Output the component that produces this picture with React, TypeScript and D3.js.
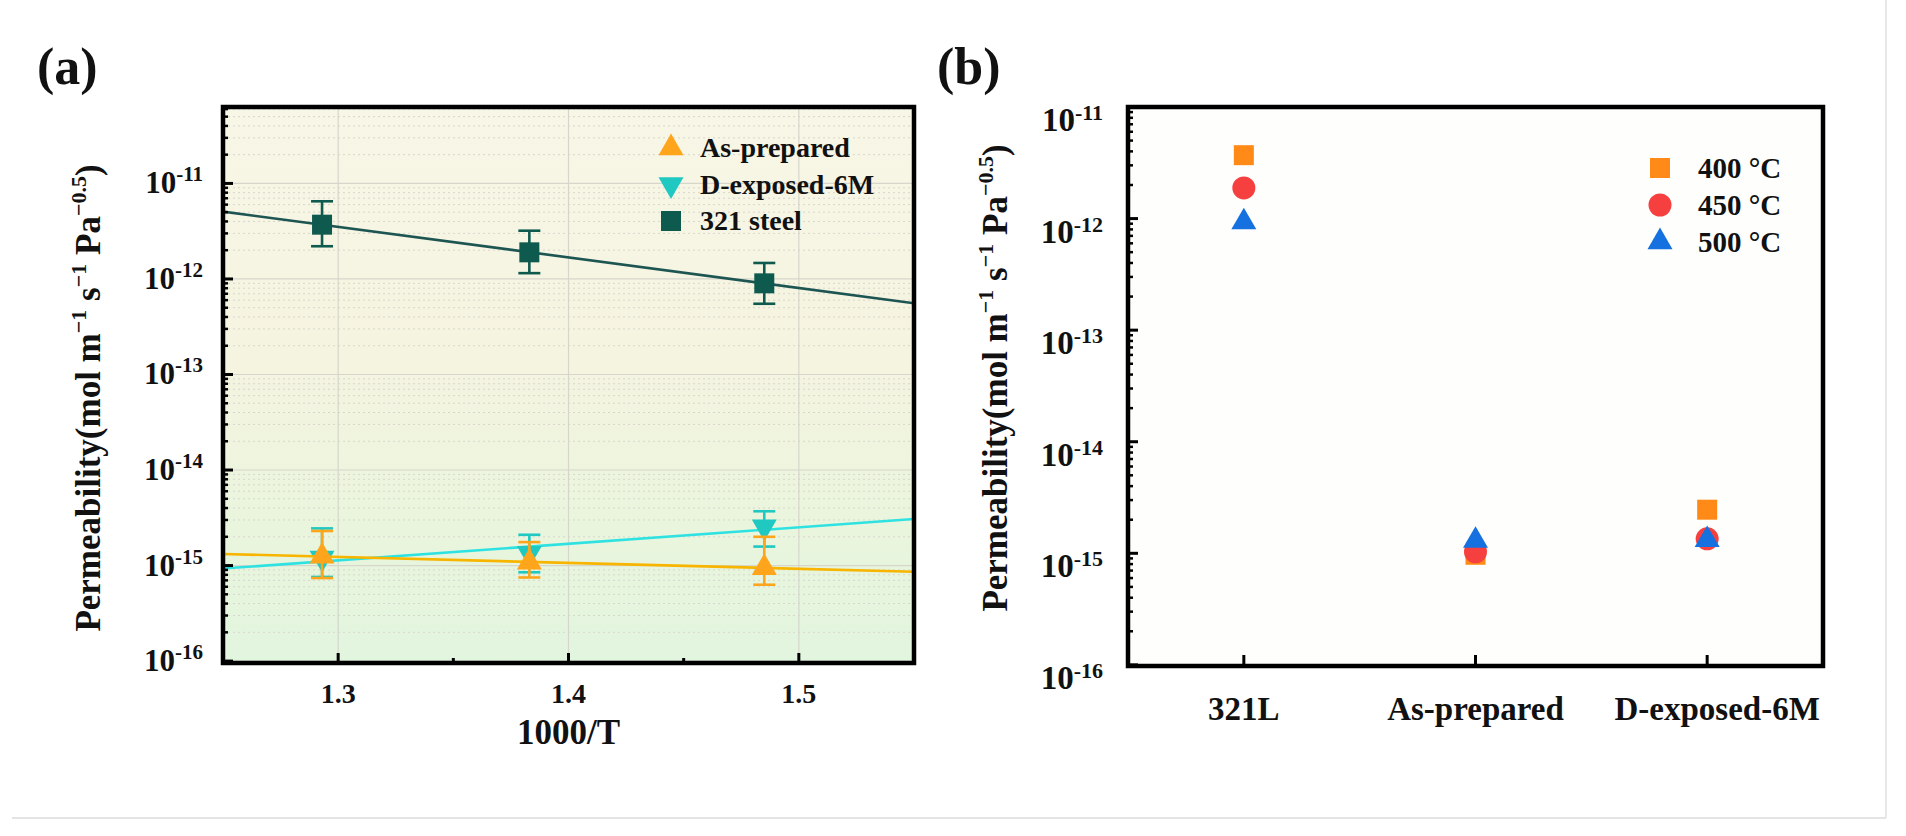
import React from 'react';
import * as d3 from 'd3';

const W = 1906;
const H = 836;
const FONT = '"Liberation Serif", "Times New Roman", Times, serif';

// ---------- Panel (a) data ----------
const invT = [1.293, 1.383, 1.485];
const steelVals = [3.7e-12, 1.9e-12, 9.0e-13];
const steelHi = [6.5e-12, 3.2e-12, 1.47e-12];
const steelLo = [2.2e-12, 1.15e-12, 5.5e-13];
const asPrepVals = [1.25e-15, 1.08e-15, 9.5e-16];
const asPrepHi = [2.3e-15, 1.76e-15, 2.0e-15];
const asPrepLo = [7.4e-16, 7.5e-16, 6.3e-16];
const dexpVals = [1.2e-15, 1.35e-15, 2.55e-15];
const dexpHi = [2.45e-15, 2.1e-15, 3.7e-15];
const dexpLo = [7.6e-16, 8.5e-16, 1.58e-15];
const xTicksA = [1.3, 1.4, 1.5];
const xMinorA = [1.35, 1.45];
const xDomainA = [1.25, 1.55];
const decadeExpsA = [-16, -15, -14, -13, -12, -11];
const legendA = ['As-prepared', 'D-exposed-6M', '321 steel'];

// ---------- Panel (b) data ----------
const categories = ['321L', 'As-prepared', 'D-exposed-6M'];
const t400 = [3.7e-12, 0.97e-15, 2.46e-15];
const t450 = [1.88e-12, 1.03e-15, 1.35e-15];
const t500 = [0.93e-12, 1.3e-15, 1.32e-15];
const decadeExpsB = [-16, -15, -14, -13, -12, -11];
const legendB = ['400 °C', '450 °C', '500 °C'];

// colours
const C_ORANGE = '#ffa51c';
const C_ORANGE_LINE = '#f7b500';
const C_CYAN = '#1fc9c2';
const C_CYAN_LINE = '#2fe2e2';
const C_STEEL = '#0e5a4e';
const C_STEEL_LINE = '#1d5552';
const C_B400 = '#ff8a17';
const C_B450 = '#f6403f';
const C_B500 = '#1570e0';

// geometry
const A = { left: 223, right: 914, top: 107, bottom: 663 };
const B = { left: 1128, right: 1823, top: 107, bottom: 666 };

const triUp = d3.symbol().type(d3.symbolTriangle).size(270)() as string;
const square = d3.symbol().type(d3.symbolSquare).size(400)() as string;
const circle = d3.symbol().type(d3.symbolCircle).size(415)() as string;

function logFit(xs: number[], ys: number[]) {
  const ly = ys.map((v) => Math.log10(v));
  const mx = d3.mean(xs) as number;
  const my = d3.mean(ly) as number;
  let sxy = 0;
  let sxx = 0;
  xs.forEach((x, i) => {
    sxy += (x - mx) * (ly[i] - my);
    sxx += (x - mx) * (x - mx);
  });
  const b = sxy / sxx;
  return (x: number) => Math.pow(10, my + b * (x - mx));
}

function minorValues(exps: number[]) {
  const out: number[] = [];
  exps.forEach((e) => {
    for (let k = 2; k <= 9; k++) out.push(k * Math.pow(10, e));
  });
  return out;
}

function PowLabel({ x, y, exp, size, sup, raise }: any) {
  return (
    <text x={x} y={y} textAnchor="end" fontFamily={FONT} fontWeight="bold" fontSize={size} fill="#111">
      10
      <tspan dy={-raise} fontSize={sup}>
        {String(exp)}
      </tspan>
    </text>
  );
}

function YLabel({ x, y, size }: any) {
  const sup = Math.round(size * 0.62);
  const r = Math.round(size * 0.4);
  return (
    <text
      transform={`translate(${x},${y}) rotate(-90)`}
      textAnchor="middle"
      fontFamily={FONT}
      fontWeight="bold"
      fontSize={size}
      fill="#111"
    >
      Permeability(mol m
      <tspan dy={-r} fontSize={sup}>{'\u22121'}</tspan>
      <tspan dy={r}> s</tspan>
      <tspan dy={-r} fontSize={sup}>{'\u22121'}</tspan>
      <tspan dy={r}> Pa</tspan>
      <tspan dy={-r} fontSize={sup}>{'\u22120.5'}</tspan>
      <tspan dy={r}>)</tspan>
    </text>
  );
}

function PanelA() {
  const x = d3.scaleLinear().domain(xDomainA).range([A.left, A.right]);
  const y = d3
    .scaleLog()
    .domain([Math.pow(10, -16.02), Math.pow(10, -10.2)])
    .range([A.bottom, A.top]);
  const minors = minorValues(decadeExpsA).filter((v) => v < y.domain()[1] && v > y.domain()[0]);
  const majors = decadeExpsA.map((e) => Math.pow(10, e));

  const fitPath = (vals: number[]) => {
    const f = logFit(invT, vals);
    const pts = xDomainA.map((xx) => [x(xx), y(f(xx))] as [number, number]);
    return d3.line()(pts) as string;
  };

  const series = [
    { vals: dexpVals, hi: dexpHi, lo: dexpLo, color: C_CYAN, lineColor: C_CYAN_LINE, sym: triUp, rot: 180 },
    { vals: asPrepVals, hi: asPrepHi, lo: asPrepLo, color: C_ORANGE, lineColor: C_ORANGE_LINE, sym: triUp, rot: 0 },
    { vals: steelVals, hi: steelHi, lo: steelLo, color: C_STEEL, lineColor: C_STEEL_LINE, sym: square, rot: 0 },
  ];

  const legendItems = [
    { label: legendA[0], color: C_ORANGE, sym: triUp, rot: 0 },
    { label: legendA[1], color: C_CYAN, sym: triUp, rot: 180 },
    { label: legendA[2], color: C_STEEL, sym: square, rot: 0 },
  ];

  return (
    <g>
      <defs>
        <linearGradient id="bgA" x1="0" y1="0" x2="0" y2="1">
          <stop offset="0%" stopColor="#f8f6e6" />
          <stop offset="45%" stopColor="#f5f4e0" />
          <stop offset="75%" stopColor="#eaf5dd" />
          <stop offset="100%" stopColor="#e2f5df" />
        </linearGradient>
        <clipPath id="clipA">
          <rect x={A.left} y={A.top} width={A.right - A.left} height={A.bottom - A.top} />
        </clipPath>
      </defs>
      <rect x={A.left} y={A.top} width={A.right - A.left} height={A.bottom - A.top} fill="url(#bgA)" />
      {/* grid */}
      <g clipPath="url(#clipA)">
        {minors.map((v, i) => (
          <line key={'mg' + i} x1={A.left} x2={A.right} y1={y(v)} y2={y(v)} stroke="#d6d6cc" strokeWidth={1} strokeDasharray="2,3" />
        ))}
        {majors.map((v, i) => (
          <line key={'Mg' + i} x1={A.left} x2={A.right} y1={y(v)} y2={y(v)} stroke="#d6d6cc" strokeWidth={1.2} />
        ))}
        {xTicksA.map((v, i) => (
          <line key={'vg' + i} x1={x(v)} x2={x(v)} y1={A.top} y2={A.bottom} stroke="#d6d6cc" strokeWidth={1.2} />
        ))}
      </g>
      {/* fit lines & data */}
      <g clipPath="url(#clipA)">
        {series.map((s, si) => (
          <g key={'s' + si}>
            <path d={fitPath(s.vals)} stroke={s.lineColor} strokeWidth={2.6} fill="none" />
            {s.vals.map((v, i) => (
              <g key={i} stroke={s.color} strokeWidth={2.6}>
                <line x1={x(invT[i])} x2={x(invT[i])} y1={y(s.hi[i])} y2={y(s.lo[i])} />
                <line x1={x(invT[i]) - 11} x2={x(invT[i]) + 11} y1={y(s.hi[i])} y2={y(s.hi[i])} />
                <line x1={x(invT[i]) - 11} x2={x(invT[i]) + 11} y1={y(s.lo[i])} y2={y(s.lo[i])} />
              </g>
            ))}
            {s.vals.map((v, i) => (
              <path
                key={'m' + i}
                d={s.sym}
                fill={s.color}
                transform={`translate(${x(invT[i])},${y(v)}) rotate(${s.rot})`}
              />
            ))}
          </g>
        ))}
      </g>
      {/* ticks */}
      {majors.map((v, i) => (
        <line key={'yt' + i} x1={A.left} x2={A.left + 10} y1={y(v)} y2={y(v)} stroke="#000" strokeWidth={3} />
      ))}
      {minors.map((v, i) => (
        <line key={'ymt' + i} x1={A.left} x2={A.left + 5} y1={y(v)} y2={y(v)} stroke="#000" strokeWidth={2.5} />
      ))}
      {xTicksA.map((v, i) => (
        <line key={'xt' + i} x1={x(v)} x2={x(v)} y1={A.bottom} y2={A.bottom - 10} stroke="#000" strokeWidth={3} />
      ))}
      {xMinorA.map((v, i) => (
        <line key={'xmt' + i} x1={x(v)} x2={x(v)} y1={A.bottom} y2={A.bottom - 5} stroke="#000" strokeWidth={3} />
      ))}
      <rect x={A.left} y={A.top} width={A.right - A.left} height={A.bottom - A.top} fill="none" stroke="#000" strokeWidth={4.5} />
      {/* tick labels */}
      {decadeExpsA.map((e, i) => (
        <PowLabel key={'yl' + i} x={203} y={y(Math.pow(10, e)) + 10} exp={e} size={31} sup={21} raise={12} />
      ))}
      {xTicksA.map((v, i) => (
        <text key={'xl' + i} x={x(v)} y={703} textAnchor="middle" fontFamily={FONT} fontWeight="bold" fontSize={28} fill="#111">
          {v.toFixed(1)}
        </text>
      ))}
      <text x={(A.left + A.right) / 2} y={744} textAnchor="middle" fontFamily={FONT} fontWeight="bold" fontSize={35} fill="#111">
        1000/T
      </text>
      <YLabel x={100} y={398} size={35} />
      {/* legend */}
      {legendItems.map((it, i) => (
        <g key={'lg' + i}>
          <path d={it.sym} fill={it.color} transform={`translate(671,${148 + i * 36.5}) rotate(${it.rot})`} />
          <text x={700} y={148 + i * 36.5 + 9} fontFamily={FONT} fontWeight="bold" fontSize={28} fill="#111">
            {it.label}
          </text>
        </g>
      ))}
      <text x={37} y={84} fontFamily={FONT} fontWeight="bold" fontSize={52} fill="#111">
        (a)
      </text>
    </g>
  );
}

function PanelB() {
  const x = d3.scaleLinear().domain([-0.5, categories.length - 0.5]).range([B.left, B.right]);
  const y = d3
    .scaleLog()
    .domain([Math.pow(10, -16.01), 1e-11])
    .range([B.bottom, B.top]);
  const majors = decadeExpsB.map((e) => Math.pow(10, e));
  const minors = minorValues(decadeExpsB).filter((v) => v < y.domain()[1] && v > y.domain()[0]);
  const series = [
    { vals: t400, color: C_B400, sym: square },
    { vals: t450, color: C_B450, sym: circle },
    { vals: t500, color: C_B500, sym: triUp },
  ];
  return (
    <g>
      <rect x={B.left} y={B.top} width={B.right - B.left} height={B.bottom - B.top} fill="#fefefc" />
      {series.map((s, si) => (
        <g key={'bs' + si}>
          {s.vals.map((v, i) => (
            <path key={i} d={s.sym} fill={s.color} transform={`translate(${x(i)},${y(v)})`} />
          ))}
        </g>
      ))}
      {majors.map((v, i) => (
        <line key={'yt' + i} x1={B.left} x2={B.left + 10} y1={y(v)} y2={y(v)} stroke="#000" strokeWidth={3} />
      ))}
      {minors.map((v, i) => (
        <line key={'ymt' + i} x1={B.left} x2={B.left + 5} y1={y(v)} y2={y(v)} stroke="#000" strokeWidth={2.5} />
      ))}
      {categories.map((c, i) => (
        <line key={'xt' + i} x1={x(i)} x2={x(i)} y1={B.bottom} y2={B.bottom - 11} stroke="#000" strokeWidth={3} />
      ))}
      <rect x={B.left} y={B.top} width={B.right - B.left} height={B.bottom - B.top} fill="none" stroke="#000" strokeWidth={4.5} />
      {decadeExpsB.map((e, i) => (
        <PowLabel key={'yl' + i} x={1103} y={y(Math.pow(10, e)) + 24} exp={e} size={33} sup={22} raise={11} />
      ))}
      {categories.map((c, i) => (
        <text key={'xl' + i} x={x(i) + (i === 2 ? 10 : 0)} y={720} textAnchor="middle" fontFamily={FONT} fontWeight="bold" fontSize={33} fill="#111">
          {c}
        </text>
      ))}
      <YLabel x={1007} y={378} size={35} />
      {series.map((s, i) => (
        <g key={'lg' + i}>
          <path d={s.sym} fill={s.color} transform={`translate(1660,${168 + i * 37})`} />
          <text x={1698} y={168 + i * 37 + 10} fontFamily={FONT} fontWeight="bold" fontSize={29} fill="#111">
            {legendB[i]}
          </text>
        </g>
      ))}
      <text x={937} y={84} fontFamily={FONT} fontWeight="bold" fontSize={52} fill="#111">
        (b)
      </text>
    </g>
  );
}

export default function App() {
  return (
    <svg width={W} height={H} viewBox={`0 0 ${W} ${H}`} style={{ position: 'absolute', left: 0, top: 0, background: '#fff' }}>
      <rect x={0} y={0} width={W} height={H} fill="#fff" />
      <line x1={12} x2={1886} y1={818} y2={818} stroke="#e4e4e4" strokeWidth={2} />
      <line x1={1886} x2={1886} y1={0} y2={818} stroke="#e8e8e8" strokeWidth={2} />
      <PanelA />
      <PanelB />
    </svg>
  );
}
